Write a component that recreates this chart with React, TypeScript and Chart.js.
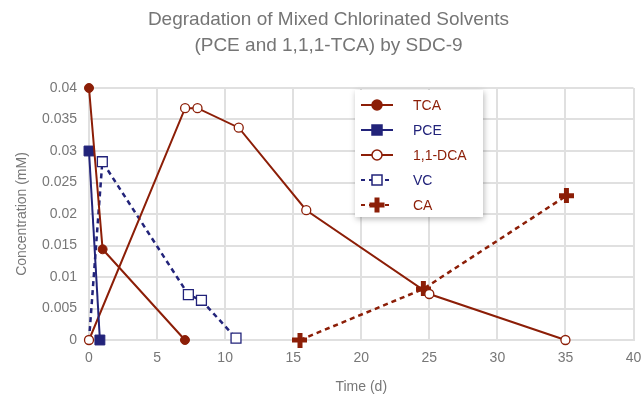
import React, { useEffect, useRef } from 'react';
import { Chart, registerables } from 'chart.js';

Chart.register(...registerables);

const RED = '#8c1e07';
const BLUE = '#22237a';
const FONT = "'Liberation Sans', Arial, sans-serif";

const titleLines = ['Degradation of Mixed Chlorinated Solvents', '(PCE and 1,1,1-TCA) by SDC-9'];
const xTitle = 'Time (d)';
const yTitle = 'Concentration (mM)';

const tcaX = [0, 1.0, 7.05];
const tcaY = [0.04, 0.0144, 0];

const pceX = [0, 0.8];
const pceY = [0.03, 0];

const dcaX = [0, 7.06, 7.97, 11.0, 15.96, 25.0, 35.0];
const dcaY = [0, 0.0368, 0.0368, 0.0337, 0.0206, 0.0073, 0];

const vcX = [0, 0.98, 7.3, 8.26, 10.8];
const vcY = [0, 0.0283, 0.0072, 0.0063, 0.0003];

const caX = [15.5, 24.56, 35.07];
const caY = [0, 0.0081, 0.0229];

const seriesNames = ['TCA', 'PCE', '1,1-DCA', 'VC', 'CA'];

function pts(xs: number[], ys: number[]) {
  return xs.map((x, i) => ({ x, y: ys[i] }));
}

function makePlus(color: string, size = 15, thick = 5) {
  const c = document.createElement('canvas');
  c.width = size;
  c.height = size;
  const g = c.getContext('2d')!;
  g.fillStyle = color;
  const o = (size - thick) / 2;
  g.fillRect(o, 0, thick, size);
  g.fillRect(0, o, size, thick);
  return c;
}

type LegendSpec = { label: string; color: string; marker: 'circle' | 'square' | 'plus'; filled: boolean; dashed: boolean };

const legendSpecs: LegendSpec[] = [
  { label: seriesNames[0], color: RED, marker: 'circle', filled: true, dashed: false },
  { label: seriesNames[1], color: BLUE, marker: 'square', filled: true, dashed: false },
  { label: seriesNames[2], color: RED, marker: 'circle', filled: false, dashed: false },
  { label: seriesNames[3], color: BLUE, marker: 'square', filled: false, dashed: true },
  { label: seriesNames[4], color: RED, marker: 'plus', filled: true, dashed: true },
];

const legendPlugin = {
  id: 'insideLegend',
  afterDraw(chart: any) {
    const ctx = chart.ctx as CanvasRenderingContext2D;
    const ca = chart.chartArea;
    const bx = ca.left + 266;
    const by = ca.top + 2;
    const bw = 128;
    const bh = 127;
    ctx.save();
    ctx.shadowColor = 'rgba(0,0,0,0.28)';
    ctx.shadowBlur = 6;
    ctx.shadowOffsetX = 1;
    ctx.shadowOffsetY = 2;
    ctx.fillStyle = '#ffffff';
    ctx.fillRect(bx, by, bw, bh);
    ctx.restore();

    ctx.save();
    legendSpecs.forEach((s, i) => {
      const cy = by + 15 + i * 25;
      const x1 = bx + 6;
      const x2 = bx + 38;
      const cx = bx + 22;
      ctx.strokeStyle = s.color;
      ctx.lineWidth = 2;
      ctx.setLineDash(s.dashed ? [4, 4] : []);
      ctx.beginPath();
      ctx.moveTo(x1, cy);
      ctx.lineTo(x2, cy);
      ctx.stroke();
      ctx.setLineDash([]);
      if (s.marker === 'circle') {
        ctx.beginPath();
        ctx.arc(cx, cy, 5, 0, Math.PI * 2);
        ctx.fillStyle = s.filled ? s.color : '#ffffff';
        ctx.fill();
        ctx.lineWidth = 1.5;
        ctx.stroke();
      } else if (s.marker === 'square') {
        const h = 5;
        ctx.fillStyle = s.filled ? s.color : '#ffffff';
        ctx.fillRect(cx - h, cy - h, 2 * h, 2 * h);
        ctx.lineWidth = 1.5;
        ctx.strokeRect(cx - h, cy - h, 2 * h, 2 * h);
      } else {
        ctx.fillStyle = s.color;
        ctx.fillRect(cx - 2.5, cy - 7.5, 5, 15);
        ctx.fillRect(cx - 7.5, cy - 2.5, 15, 5);
      }
      ctx.font = `14px ${FONT}`;
      ctx.fillStyle = s.color;
      ctx.textBaseline = 'middle';
      ctx.textAlign = 'left';
      ctx.fillText(s.label, bx + 58, cy + 1);
    });
    ctx.restore();
  },
};

export default function App() {
  const ref = useRef<HTMLCanvasElement>(null);

  useEffect(() => {
    document.body.style.margin = '0';
    const canvas = ref.current!;
    const plus = makePlus(RED);
    const GRID = '#e0e0e0';
    const TICK = '#777777';
    const chart = new Chart(canvas, {
      type: 'scatter',
      data: {
        datasets: [
          {
            label: seriesNames[0],
            data: pts(tcaX, tcaY),
            showLine: true,
            borderColor: RED,
            backgroundColor: RED,
            borderWidth: 2,
            pointStyle: 'circle',
            pointRadius: 4.5,
            pointBorderWidth: 1,
            clip: false,
          },
          {
            label: seriesNames[1],
            data: pts(pceX, pceY),
            showLine: true,
            borderColor: BLUE,
            backgroundColor: BLUE,
            borderWidth: 2,
            pointStyle: 'rect',
            pointRadius: 7,
            pointBorderWidth: 1,
            clip: false,
          },
          {
            label: seriesNames[2],
            data: pts(dcaX, dcaY),
            showLine: true,
            borderColor: RED,
            backgroundColor: '#ffffff',
            borderWidth: 2,
            pointStyle: 'circle',
            pointRadius: 4.5,
            pointBorderWidth: 1.3,
            clip: false,
          },
          {
            label: seriesNames[3],
            data: pts(vcX, vcY),
            showLine: true,
            borderColor: BLUE,
            backgroundColor: '#ffffff',
            borderWidth: 2.5,
            borderDash: [5, 4],
            pointStyle: 'rect',
            pointRadius: vcX.map((_, i) => (i === 0 ? 0 : 7)),
            pointBorderWidth: 1.3,
            clip: false,
          },
          {
            label: seriesNames[4],
            data: pts(caX, caY),
            showLine: true,
            borderColor: RED,
            backgroundColor: RED,
            borderWidth: 2.5,
            borderDash: [5, 4],
            pointStyle: plus as any,
            pointRadius: 7,
            clip: false,
          },
        ],
      },
      options: {
        animation: false,
        responsive: false,
        devicePixelRatio: 1,
        layout: { padding: { left: 14, right: 0, top: 0, bottom: 0 } },
        plugins: {
          legend: { display: false },
          tooltip: { enabled: false },
          title: {
            display: true,
            text: titleLines,
            color: '#757575',
            font: { family: FONT, size: 19, weight: 'normal', lineHeight: 1.35 },
            padding: { top: 7, bottom: 29.7 },
          },
        },
        scales: {
          x: {
            type: 'linear',
            min: 0,
            max: 40,
            afterFit: (s: any) => { s.height = 57; s.paddingRight = 9; s.paddingLeft = 0; },
            ticks: { stepSize: 5, color: TICK, padding: 10, font: { family: FONT, size: 14 } },
            grid: { color: GRID, lineWidth: 2, drawTicks: false },
            border: { color: GRID, width: 2 },
            title: { display: true, text: xTitle, color: TICK, padding: { top: 0, bottom: 1 }, font: { family: FONT, size: 14 } },
          },
          y: {
            type: 'linear',
            min: 0,
            max: 0.04,
            afterFit: (s: any) => { s.width = 75; },
            ticks: {
              stepSize: 0.005,
              color: TICK,
              padding: 12,
              font: { family: FONT, size: 14 },
              callback: (v: any) => (Number(v) === 0 ? '0' : String(+Number(v).toFixed(3))),
            },
            grid: { color: GRID, lineWidth: 2, drawTicks: false },
            border: { color: GRID, width: 2 },
            title: { display: true, text: yTitle, color: TICK, padding: { top: 0, bottom: 0 }, font: { family: FONT, size: 14 } },
          },
        },
      },
      plugins: [legendPlugin],
    } as any);
    return () => chart.destroy();
  }, []);

  return (
    <div style={{ width: 643, height: 397 }}>
      <canvas ref={ref} width={643} height={397} style={{ display: 'block', width: 643, height: 397 }} />
    </div>
  );
}
